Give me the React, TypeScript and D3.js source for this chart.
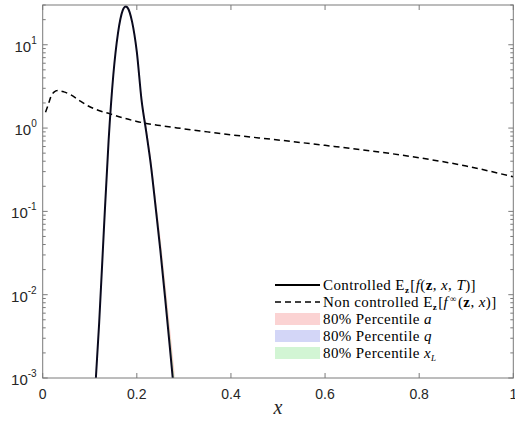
import React from "react";
import * as d3 from "d3";

// ---------- data ----------
const ctrlX = [0.113, 0.12, 0.13, 0.14, 0.15, 0.16, 0.17, 0.1764, 0.18, 0.19, 0.2, 0.21, 0.22, 0.23, 0.24, 0.25, 0.26, 0.27, 0.28];
const ctrlY = [0.001, 0.0046, 0.06, 0.7, 4.3, 13.8, 25.8, 28.8, 28.0, 18.8, 8.2, 2.18, 0.9, 0.355, 0.112, 0.034, 0.0093, 0.0024, 0.0006];

// percentile bands (lower / upper) on the same x grid
const bandALo = [0.0009, 0.0043, 0.056, 0.66, 4.1, 13.3, 25.2, 28.4, 27.8, 18.8, 8.3, 2.25, 0.95, 0.38, 0.125, 0.039, 0.011, 0.003, 0.0008];
const bandAHi = [0.0011, 0.005, 0.064, 0.74, 4.5, 14.2, 26.3, 29.1, 28.4, 19.6, 8.9, 2.5, 1.08, 0.44, 0.15, 0.05, 0.015, 0.0043, 0.0012];
const bandQLo = [0.0008, 0.0038, 0.05, 0.62, 3.9, 13.0, 25.0, 28.3, 27.6, 18.4, 8.0, 2.1, 0.87, 0.34, 0.108, 0.033, 0.009, 0.0023, 0.0006];
const bandQHi = [0.0013, 0.0056, 0.07, 0.8, 4.7, 14.5, 26.5, 29.2, 28.4, 19.3, 8.5, 2.3, 0.96, 0.38, 0.122, 0.038, 0.0105, 0.0028, 0.0007];
const bandXLo = [0.0009, 0.0044, 0.058, 0.68, 4.2, 13.5, 25.5, 28.6, 27.9, 18.6, 8.1, 2.15, 0.89, 0.35, 0.112, 0.035, 0.0098, 0.0026, 0.0007];
const bandXHi = [0.0011, 0.0048, 0.062, 0.72, 4.4, 14.0, 26.0, 29.0, 28.3, 19.3, 8.6, 2.35, 1.0, 0.41, 0.138, 0.045, 0.013, 0.0036, 0.001];

const freeX = [0.006, 0.011, 0.017, 0.024, 0.032, 0.045, 0.06, 0.08, 0.1, 0.115, 0.143, 0.17, 0.2, 0.25, 0.3, 0.35, 0.4, 0.5, 0.6, 0.7, 0.8, 0.9, 1.0];
const freeY = [1.55, 1.85, 2.35, 2.7, 2.82, 2.72, 2.5, 2.1, 1.8, 1.66, 1.48, 1.33, 1.2, 1.07, 0.98, 0.9, 0.83, 0.72, 0.62, 0.53, 0.44, 0.35, 0.26];

const xTicks = [0, 0.2, 0.4, 0.6, 0.8, 1];
const xTickLabels = ["0", "0.2", "0.4", "0.6", "0.8", "1"];
const yDecades = [-3, -2, -1, 0, 1];

const legendItems = [
  { kind: "solid" },
  { kind: "dashed" },
  { kind: "swatch", color: "#fbd3d3" },
  { kind: "swatch", color: "#d3d6f7" },
  { kind: "swatch", color: "#d2f5d4" },
];

// ---------- layout ----------
const W = 515, H = 430;
const L = 42.7, R = 513.3, T = 5, B = 378;

export default function App() {
  const x = d3.scaleLinear().domain([0, 1]).range([L, R]);
  const y = d3.scaleLog().domain([1e-3, 30]).range([B, T]);

  const line = d3
    .line<[number, number]>()
    .x((d) => x(d[0]))
    .y((d) => y(d[1]))
    .curve(d3.curveMonotoneX);

  const area = (lo: number[], hi: number[]) =>
    d3
      .area<number>()
      .x((_, i) => x(ctrlX[i]))
      .y0((_, i) => y(lo[i]))
      .y1((_, i) => y(hi[i]))
      .curve(d3.curveMonotoneX)(ctrlX.map((_, i) => i)) || "";

  const ctrlPath = line(ctrlX.map((v, i) => [v, ctrlY[i]] as [number, number])) || "";
  const freePath = line(freeX.map((v, i) => [v, freeY[i]] as [number, number])) || "";

  const axisColor = "#7a7a7a";
  const textColor = "#262626";

  const minorTicks: number[] = [];
  for (let d = -3; d < 2; d++) {
    for (let m = 2; m <= 9; m++) {
      const v = m * Math.pow(10, d);
      if (v <= 30) minorTicks.push(v);
    }
  }

  const legX0 = 275, legX1 = 320, legTX = 323;
  const legY0 = 285, legDY = 17;
  const serif = "'Liberation Serif', 'DejaVu Serif', serif";

  return (
    <svg
      width={W}
      height={H}
      style={{ position: "absolute", left: 0, top: 0, background: "#fff" }}
      fontFamily="'Liberation Sans', Arial, sans-serif"
    >
      <rect x={0} y={0} width={W} height={H} fill="#fff" />
      <defs>
        <clipPath id="plotclip">
          <rect x={L} y={T} width={R - L} height={B - T} />
        </clipPath>
      </defs>

      <g clipPath="url(#plotclip)">
        <path d={area(bandALo, bandAHi)} fill="#ff0000" fillOpacity={0.18} />
        <path d={area(bandQLo, bandQHi)} fill="#0000ff" fillOpacity={0.18} />
        <path d={area(bandXLo, bandXHi)} fill="#00ff00" fillOpacity={0.18} />
        <path d={freePath} fill="none" stroke="#000" strokeWidth={1.5} strokeDasharray="6,4" />
        <path d={ctrlPath} fill="none" stroke="#0a0a1e" strokeWidth={2} />
      </g>

      {/* box */}
      <rect x={L} y={T} width={R - L} height={B - T} fill="none" stroke={axisColor} strokeWidth={1} />

      {/* x ticks */}
      {xTicks.map((t, i) => (
        <g key={"xt" + i}>
          <line x1={x(t)} x2={x(t)} y1={B} y2={B - 5} stroke={axisColor} />
          <line x1={x(t)} x2={x(t)} y1={T} y2={T + 5} stroke={axisColor} />
          <text x={x(t)} y={B + 17} fontSize={14} fill={textColor} textAnchor="middle" dominantBaseline="middle">
            {xTickLabels[i]}
          </text>
        </g>
      ))}

      {/* y ticks */}
      {yDecades.map((d) => {
        const yy = y(Math.pow(10, d));
        return (
          <g key={"yt" + d}>
            <line x1={L} x2={L + 5} y1={yy} y2={yy} stroke={axisColor} />
            <line x1={R} x2={R - 5} y1={yy} y2={yy} stroke={axisColor} />
            <text x={L - 6} y={yy + 7} fontSize={15} fill={textColor} textAnchor="end">
              <tspan>10</tspan>
              <tspan dy={-8} fontSize={10}>{String(d)}</tspan>
            </text>
          </g>
        );
      })}
      {minorTicks.map((v, i) => (
        <g key={"mt" + i}>
          <line x1={L} x2={L + 3} y1={y(v)} y2={y(v)} stroke={axisColor} />
          <line x1={R} x2={R - 3} y1={y(v)} y2={y(v)} stroke={axisColor} />
        </g>
      ))}

      {/* x label */}
      <text x={(L + R) / 2} y={414} fontSize={20} fontStyle="italic" fontFamily={serif} fill={textColor} textAnchor="middle">
        x
      </text>

      {/* legend */}
      <g fontFamily={serif} fontSize={15} letterSpacing={0.4} fill="#000">
        {legendItems.map((it, i) => {
          const cy = legY0 + i * legDY;
          return (
            <g key={"lg" + i}>
              {it.kind === "solid" && <line x1={legX0} x2={legX1} y1={cy} y2={cy} stroke="#000" strokeWidth={2} />}
              {it.kind === "dashed" && (
                <line x1={legX0} x2={legX1} y1={cy} y2={cy} stroke="#000" strokeWidth={1.5} strokeDasharray="6,4" />
              )}
              {it.kind === "swatch" && <rect x={legX0} y={cy - 6} width={legX1 - legX0} height={12} fill={it.color} />}
            </g>
          );
        })}
        <text x={legTX} y={legY0 + 5}>
          Controlled E<tspan dy={3} fontSize={9} fontWeight="bold">z</tspan>
          <tspan dy={-3} dx={1}>[</tspan>
          <tspan fontStyle="italic">f</tspan>(<tspan fontWeight="bold">z</tspan>, <tspan fontStyle="italic">x</tspan>, <tspan fontStyle="italic">T</tspan>)]
        </text>
        <text x={legTX} y={legY0 + legDY + 5}>
          Non controlled E<tspan dy={3} fontSize={9} fontWeight="bold">z</tspan>
          <tspan dy={-3} dx={1}>[</tspan>
          <tspan fontStyle="italic">f</tspan>
          <tspan dy={-5} dx={2} fontSize={9}>∞</tspan>
          <tspan dy={5} dx={1}>(</tspan>
          <tspan fontWeight="bold">z</tspan>, <tspan fontStyle="italic">x</tspan>)]
        </text>
        <text x={legTX} y={legY0 + 2 * legDY + 5}>
          80% Percentile <tspan fontStyle="italic">a</tspan>
        </text>
        <text x={legTX} y={legY0 + 3 * legDY + 5}>
          80% Percentile <tspan fontStyle="italic">q</tspan>
        </text>
        <text x={legTX} y={legY0 + 4 * legDY + 5}>
          80% Percentile <tspan fontStyle="italic">x</tspan>
          <tspan dy={3} fontSize={9} fontStyle="italic">L</tspan>
        </text>
      </g>
    </svg>
  );
}
